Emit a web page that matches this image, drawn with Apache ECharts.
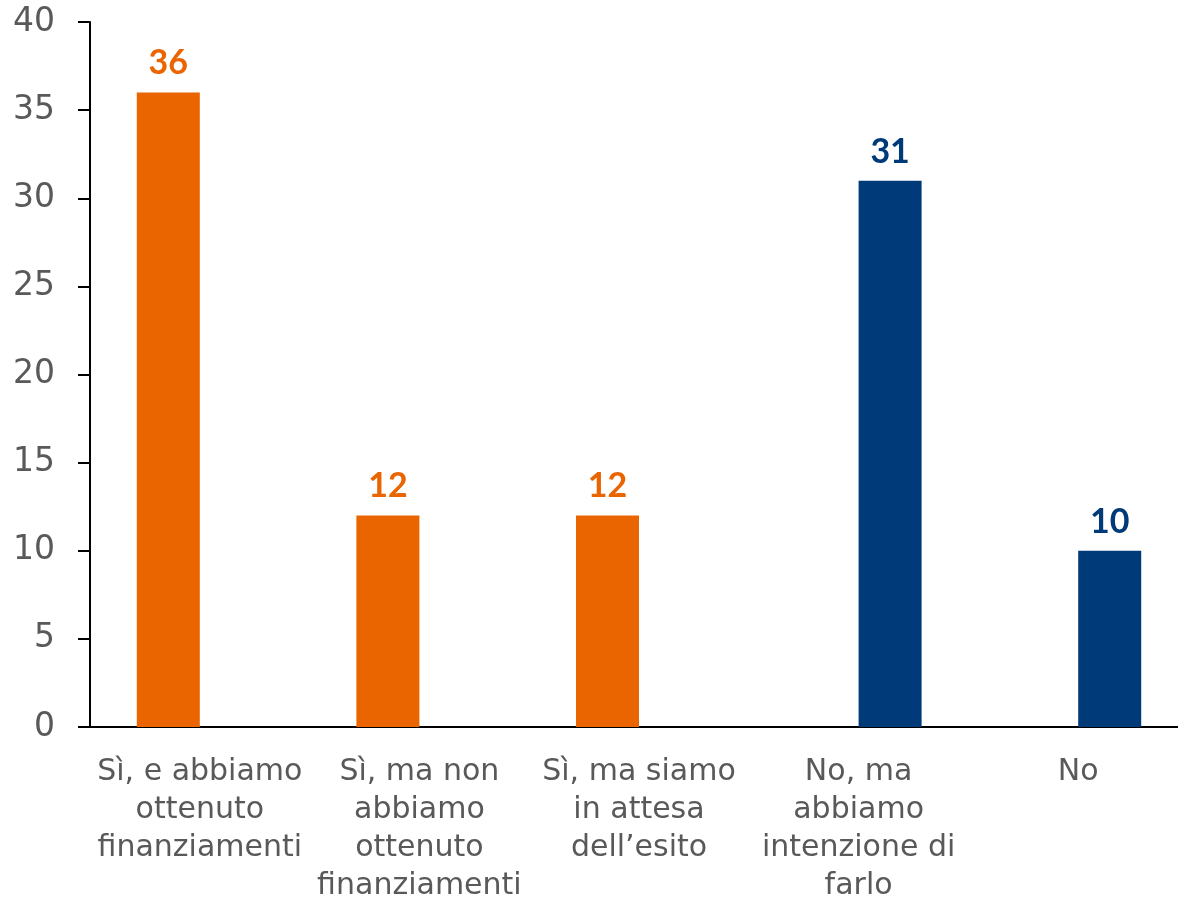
<!DOCTYPE html>
<html>
<head>
<meta charset="utf-8">
<script src="https://cdn.jsdelivr.net/npm/echarts@6/dist/echarts.min.js"></script>
<style>
  html, body { margin: 0; padding: 0; background: #fff; }
  #chart { width: 1178px; height: 900px; }
</style>
</head>
<body>
<div id="chart"></div>
<script>
// Answer categories (line breaks as set on the axis)
const categories = [
  'Sì, e abbiamo\nottenuto\nfinanziamenti',
  'Sì, ma non\nabbiamo\nottenuto\nfinanziamenti',
  'Sì, ma siamo\nin attesa\ndell\u2019esito',
  'No, ma\nabbiamo\nintenzione di\nfarlo',
  'No'
];
// Share of respondents (%) — "Sì" answers and "No" answers
const yesValues = [36, 12, 12, null, null];
const noValues = [null, null, null, 31, 10];
const yTicks = { min: 0, max: 40, interval: 5 };

const FONT = '"DejaVu Sans"';
const LABEL_FONT = 'Lato';
const ORANGE = '#EA6500';
const BLUE = '#003A78';
const GREY = '#595959';

const chart = echarts.init(document.getElementById('chart'));
chart.setOption({
  animation: false,
  grid: {
    left: 90, right: -10, top: 22, bottom: 173,
    containLabel: false, outerBoundsMode: 'none'
  },
  xAxis: {
    type: 'category',
    data: categories,
    axisLine: { show: true, lineStyle: { color: '#000', width: 2 } },
    axisTick: { show: false },
    axisLabel: {
      color: GREY, fontFamily: FONT, fontSize: 30, lineHeight: 38,
      margin: 26, interval: 0
    }
  },
  yAxis: {
    type: 'value',
    min: yTicks.min, max: yTicks.max, interval: yTicks.interval,
    splitLine: { show: false },
    axisLine: { show: true, lineStyle: { color: '#000', width: 2 } },
    axisTick: { show: true, length: 12, lineStyle: { color: '#000', width: 2 } },
    axisLabel: { color: GREY, fontFamily: FONT, fontSize: 33, margin: 35 }
  },
  series: [
    {
      type: 'bar', data: yesValues, barWidth: 63, barGap: '0%',
      itemStyle: { color: ORANGE },
      label: {
        show: true, position: 'top', distance: 12,
        color: ORANGE, fontFamily: LABEL_FONT, fontWeight: 'bold', fontSize: 34
      }
    },
    {
      type: 'bar', data: noValues, barWidth: 63, barGap: '0%',
      itemStyle: { color: BLUE },
      label: {
        show: true, position: 'top', distance: 12,
        color: BLUE, fontFamily: LABEL_FONT, fontWeight: 'bold', fontSize: 34
      }
    }
  ]
});
</script>
</body>
</html>
